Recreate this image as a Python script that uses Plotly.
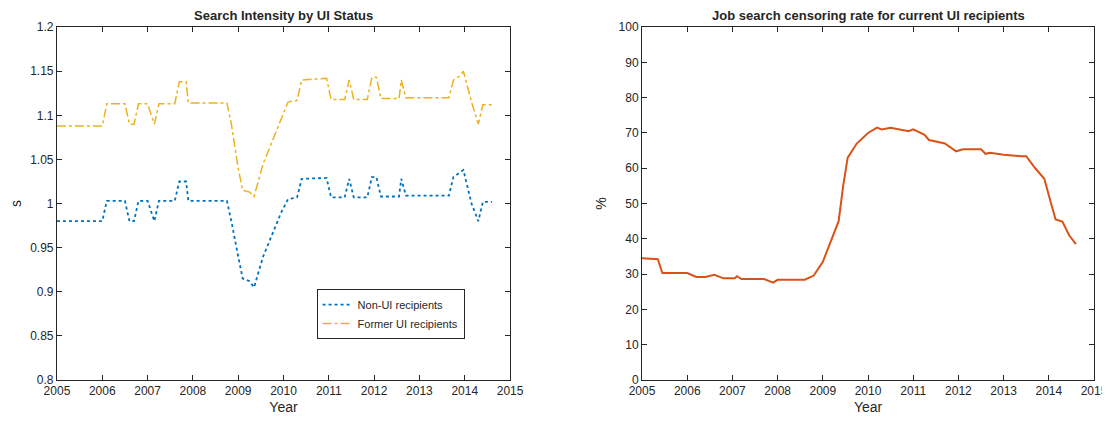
import plotly.graph_objects as go

years_l = [2005.0, 2006.0, 2006.1, 2006.5, 2006.6, 2006.7, 2006.8, 2007.0, 2007.15, 2007.25, 2007.6, 2007.7, 2007.85,
           2007.9, 2008.75, 2008.85, 2009.0, 2009.1, 2009.25, 2009.35, 2009.55, 2009.75, 2009.95, 2010.1, 2010.3,
           2010.4, 2010.95, 2011.05, 2011.35, 2011.45, 2011.55, 2011.85, 2011.95, 2012.05, 2012.15, 2012.55,
           2012.6, 2012.7, 2013.65, 2013.75, 2013.9, 2013.97, 2014.15, 2014.3, 2014.4, 2014.6]
former_ui = [1.088, 1.088, 1.113, 1.113, 1.09, 1.09, 1.113, 1.113, 1.09, 1.113, 1.113, 1.138, 1.138,
             1.114, 1.114, 1.09, 1.04, 1.015, 1.013, 1.008, 1.045, 1.07, 1.095, 1.115, 1.117,
             1.14, 1.142, 1.118, 1.118, 1.14, 1.118, 1.118, 1.143, 1.143, 1.119, 1.119,
             1.14, 1.12, 1.12, 1.14, 1.145, 1.15, 1.115, 1.09, 1.112, 1.112]
non_ui = [0.98, 0.98, 1.003, 1.003, 0.98, 0.98, 1.003, 1.003, 0.98, 1.003, 1.003, 1.025, 1.025,
          1.003, 1.003, 0.98, 0.94, 0.915, 0.912, 0.905, 0.94, 0.965, 0.99, 1.005, 1.007,
          1.028, 1.029, 1.007, 1.007, 1.028, 1.007, 1.007, 1.03, 1.03, 1.008, 1.008,
          1.028, 1.009, 1.009, 1.03, 1.035, 1.038, 1.0, 0.98, 1.002, 1.002]

years_r = [2005.0, 2005.3, 2005.35, 2005.45, 2006.0, 2006.2, 2006.4, 2006.6, 2006.8, 2007.05, 2007.1, 2007.2,
           2007.7, 2007.9, 2008.0, 2008.6, 2008.8, 2009.0, 2009.2, 2009.35, 2009.45, 2009.55, 2009.75, 2010.0,
           2010.2, 2010.3, 2010.5, 2010.9, 2011.0, 2011.25, 2011.35, 2011.7, 2011.95, 2012.1, 2012.5, 2012.6,
           2012.7, 2013.0, 2013.4, 2013.5, 2013.7, 2013.9, 2014.05, 2014.15, 2014.3, 2014.45, 2014.6]
censoring = [34.5, 34.4, 34.2, 30.3, 30.3, 29.2, 29.2, 29.8, 28.8, 28.8, 29.4, 28.6,
             28.6, 27.6, 28.4, 28.4, 29.6, 33.5, 40, 45, 55, 63, 67, 70,
             71.5, 71, 71.5, 70.5, 71, 69.5, 68, 67, 64.8, 65.4, 65.4, 64.1,
             64.4, 63.8, 63.4, 63.4, 60, 57, 50, 45.5, 44.9, 41, 38.5]

font = dict(family="Liberation Sans, Arial", size=12, color="#262626")
fig = go.Figure()
fig.add_trace(go.Scatter(x=years_l, y=non_ui, mode="lines", name="Non-UI recipients",
                         line=dict(color="#0072BD", dash="dot", width=1.8), xaxis="x", yaxis="y"))
fig.add_trace(go.Scatter(x=years_l, y=former_ui, mode="lines", name="Former UI recipients",
                         line=dict(color="#EDB120", dash="dashdot", width=1.5), xaxis="x", yaxis="y"))
fig.add_trace(go.Scatter(x=years_r, y=censoring, mode="lines", showlegend=False,
                         line=dict(color="#D95319", width=2), xaxis="x2", yaxis="y2"))

ax = dict(showgrid=False, zeroline=False, showline=True, linecolor="#262626", mirror="ticks",
          ticks="inside", ticklen=5, tickcolor="#262626", tickfont=dict(size=12), automargin=False)
fig.update_layout(
    width=1110, height=424, margin=dict(l=0, r=0, t=0, b=0),
    paper_bgcolor="white", plot_bgcolor="white", font=font,
    xaxis=dict(ax, domain=[0.0441, 0.4523], range=[2005, 2015], dtick=1, title=dict(text="Year", standoff=4)),
    yaxis=dict(ax, domain=[0.1226, 0.955], range=[0.8, 1.2], dtick=0.05, tickformat="~g", title=dict(text="s", standoff=8)),
    xaxis2=dict(ax, domain=[0.5712, 0.9784], range=[2005, 2015], dtick=1, anchor="y2", title=dict(text="Year", standoff=4)),
    yaxis2=dict(ax, domain=[0.1226, 0.955], range=[0, 100], dtick=10, anchor="x2", title=dict(text="%", standoff=8)),
    legend=dict(x=0.278, y=0.337, xanchor="left", yanchor="top", bordercolor="#262626", borderwidth=1,
                bgcolor="white", font=dict(size=11), tracegroupgap=0),
    annotations=[
        dict(text="<b>Search Intensity by UI Status</b>", x=0.248, y=0.959, xref="paper", yref="paper",
             xanchor="center", yanchor="bottom", showarrow=False, font=dict(size=13)),
        dict(text="<b>Job search censoring rate for current UI recipients</b>", x=0.775, y=0.959, xref="paper",
             yref="paper", xanchor="center", yanchor="bottom", showarrow=False, font=dict(size=13)),
    ],
)
fig.write_html("out.html")
